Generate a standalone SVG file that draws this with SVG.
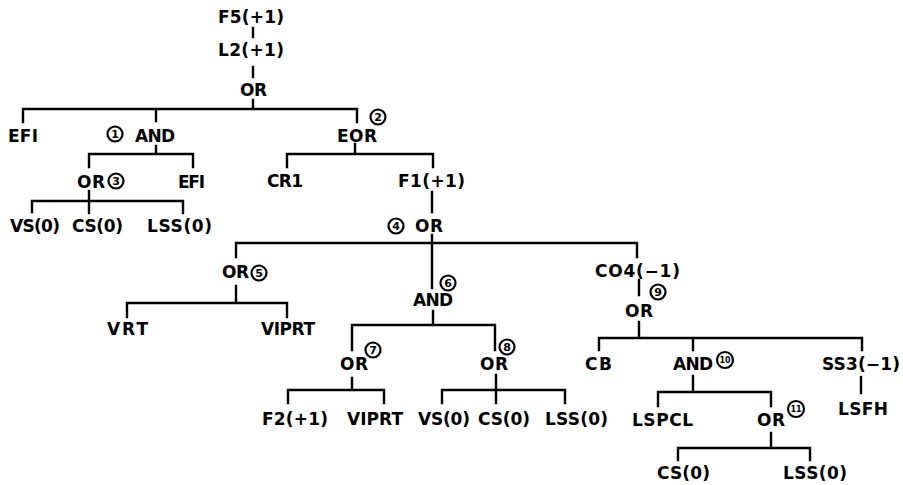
<svg xmlns="http://www.w3.org/2000/svg" width="903" height="485" viewBox="0 0 903 485">
<style>
.t{font-family:"DejaVu Sans","Liberation Sans",Arial,sans-serif;font-weight:bold;font-size:17px;fill:#000}
.c circle{fill:none;stroke:#000;stroke-width:2.2}
.n{font-family:"DejaVu Sans","Liberation Sans",Arial,sans-serif;font-weight:bold;font-size:11px;fill:#000;text-anchor:middle}
.n2{font-family:"DejaVu Sans","Liberation Sans",Arial,sans-serif;font-weight:bold;font-size:8px;fill:#000;text-anchor:middle}
#connectors path{fill:none;stroke:#000;stroke-width:2.4;stroke-linecap:square}
</style>
<rect width="903" height="485" fill="#fff"/>
<g id="connectors">
<path d="M253 28V37M253 67V77M253 100V109M23 109H357M23 109V122M156 109V121M357 109V122"/>
<path d="M156 146V154M89 154H193M89 154V167M193 154V167"/>
<path d="M89 191V213M32 201H183M32 201V212M183 201V213"/>
<path d="M355 144V154M287 154H433M287 154V167M433 154V167"/>
<path d="M432 192V212M432 235V288M236 243H637M236 243V257M637 243V257"/>
<path d="M236 286V303M127 303H287M127 303V317M287 303V317"/>
<path d="M433 311V325M352 325H495M352 325V350M495 325V350"/>
<path d="M352 378V390M288 390H384M288 390V403M384 390V403"/>
<path d="M496 375V403M442 390H565M442 390V403M565 390V403"/>
<path d="M639 280V295M639 322V338M599 338H862M599 338V350M693 338V350M862 338V350"/>
<path d="M861 377V393"/>
<path d="M693 376V392M658 392H771M658 392V406M771 392V406"/>
<path d="M771 433V448M678 448H810M678 448V460M810 448V460"/>
</g>
<g id="n-f5"><text class="t" x="218" y="23" textLength="66" lengthAdjust="spacing">F5(+1)</text></g>
<g id="n-l2"><text class="t" x="218" y="56" textLength="66" lengthAdjust="spacing">L2(+1)</text></g>
<g id="n-or0"><text class="t" x="240" y="96" textLength="27" lengthAdjust="spacing">OR</text></g>
<g id="n-efi1"><text class="t" x="8" y="142" textLength="30" lengthAdjust="spacing">EFI</text></g>
<g id="n-and1" class="c"><circle cx="115" cy="134" r="7.5"/><text class="n" x="115" y="138">1</text><text class="t" x="135" y="142" textLength="40" lengthAdjust="spacing">AND</text></g>
<g id="n-eor2" class="c"><text class="t" x="337" y="142" textLength="40" lengthAdjust="spacing">EOR</text><circle cx="378" cy="117" r="7.5"/><text class="n" x="378" y="121">2</text></g>
<g id="n-or3" class="c"><text class="t" x="77" y="188" textLength="28" lengthAdjust="spacing">OR</text><circle cx="116" cy="181" r="7.5"/><text class="n" x="116" y="185">3</text></g>
<g id="n-efi2"><text class="t" x="178" y="188" textLength="27" lengthAdjust="spacing">EFI</text></g>
<g id="n-vs1"><text class="t" x="10" y="232" textLength="50" lengthAdjust="spacing">VS(0)</text></g>
<g id="n-cs1"><text class="t" x="72" y="232" textLength="51" lengthAdjust="spacing">CS(0)</text></g>
<g id="n-lss1"><text class="t" x="147" y="232" textLength="65" lengthAdjust="spacing">LSS(0)</text></g>
<g id="n-cr1"><text class="t" x="267" y="187" textLength="36" lengthAdjust="spacing">CR1</text></g>
<g id="n-f1"><text class="t" x="398" y="187" textLength="67" lengthAdjust="spacing">F1(+1)</text></g>
<g id="n-or4" class="c"><circle cx="396" cy="226" r="7.5"/><text class="n" x="396" y="230">4</text><text class="t" x="415" y="232" textLength="28" lengthAdjust="spacing">OR</text></g>
<g id="n-or5" class="c"><text class="t" x="222" y="278" textLength="27" lengthAdjust="spacing">OR</text><circle cx="259" cy="273" r="7.5"/><text class="n" x="259" y="277">5</text></g>
<g id="n-vrt"><text class="t" x="107" y="335" textLength="41" lengthAdjust="spacing">VRT</text></g>
<g id="n-viprt1"><text class="t" x="261" y="335" textLength="54" lengthAdjust="spacing">VIPRT</text></g>
<g id="n-and6" class="c"><circle cx="448" cy="283" r="7.5"/><text class="n" x="448" y="287">6</text><text class="t" x="413" y="306" textLength="40" lengthAdjust="spacing">AND</text></g>
<g id="n-or7" class="c"><text class="t" x="340" y="370" textLength="28" lengthAdjust="spacing">OR</text><circle cx="373" cy="350" r="7.5"/><text class="n" x="373" y="354">7</text></g>
<g id="n-f2"><text class="t" x="262" y="425" textLength="66" lengthAdjust="spacing">F2(+1)</text></g>
<g id="n-viprt2"><text class="t" x="347" y="425" textLength="56" lengthAdjust="spacing">VIPRT</text></g>
<g id="n-or8" class="c"><text class="t" x="480" y="370" textLength="28" lengthAdjust="spacing">OR</text><circle cx="507" cy="347" r="7.5"/><text class="n" x="507" y="351">8</text></g>
<g id="n-vs2"><text class="t" x="418" y="425" textLength="52" lengthAdjust="spacing">VS(0)</text></g>
<g id="n-cs2"><text class="t" x="478" y="425" textLength="52" lengthAdjust="spacing">CS(0)</text></g>
<g id="n-lss2"><text class="t" x="545" y="425" textLength="63" lengthAdjust="spacing">LSS(0)</text></g>
<g id="n-co4"><text class="t" x="595" y="277" textLength="85" lengthAdjust="spacing">CO4(−1)</text></g>
<g id="n-or9" class="c"><circle cx="658" cy="292" r="7.5"/><text class="n" x="658" y="296">9</text><text class="t" x="625" y="317" textLength="28" lengthAdjust="spacing">OR</text></g>
<g id="n-cb"><text class="t" x="585" y="370" textLength="27" lengthAdjust="spacing">CB</text></g>
<g id="n-and10" class="c"><text class="t" x="673" y="370" textLength="40" lengthAdjust="spacing">AND</text><circle cx="725" cy="360" r="8"/><text class="n2" x="725" y="363">10</text></g>
<g id="n-ss3"><text class="t" x="822" y="370" textLength="78" lengthAdjust="spacing">SS3(−1)</text></g>
<g id="n-lsfh"><text class="t" x="838" y="415" textLength="50" lengthAdjust="spacing">LSFH</text></g>
<g id="n-lspcl"><text class="t" x="632" y="426" textLength="61" lengthAdjust="spacing">LSPCL</text></g>
<g id="n-or11" class="c"><text class="t" x="757" y="426" textLength="28" lengthAdjust="spacing">OR</text><circle cx="796" cy="409" r="8"/><text class="n2" x="796" y="412">11</text></g>
<g id="n-cs3"><text class="t" x="657" y="479" textLength="53" lengthAdjust="spacing">CS(0)</text></g>
<g id="n-lss3"><text class="t" x="783" y="479" textLength="64" lengthAdjust="spacing">LSS(0)</text></g>
</svg>
